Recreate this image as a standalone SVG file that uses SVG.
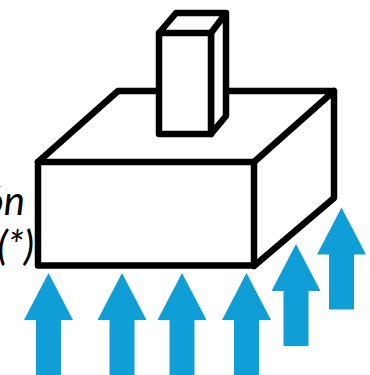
<svg xmlns="http://www.w3.org/2000/svg" width="370" height="375" viewBox="0 0 370 375">
<style>
.s{fill:#fff;stroke:#000;stroke-width:6.500;stroke-linejoin:round}
.l{fill:none;stroke:#000;stroke-width:6.500;stroke-linejoin:round;stroke-linecap:round}
.a{fill:#0f9ed5}
.t{font-family:"Lato","Open Sans","Liberation Sans",sans-serif;font-style:italic;font-size:40px;fill:#000}
</style>
<defs><path id="arrow" d="M0 0L24.500 47H12.500V102H-12.500V47H-24.500Z"/></defs>
<rect width="370" height="375" fill="#fff"/>
<g id="labels">
<text class="t" x="25" y="215" text-anchor="end">ón</text>
<text class="t" x="34" y="260" text-anchor="end">(*)</text>
</g>
<g id="base">
<path class="l" d="M38 162L118 91H334V198L254 266M254 162L334 91"/>
<rect class="s" x="38" y="162" width="216" height="103.500"/>
</g>
<g id="block">
<path class="s" d="M159 33L176 13H226V116L211 134V33L226 13"/>
<rect class="s" x="159" y="33" width="52" height="101"/>
</g>
<g id="arrows">
<use href="#arrow" class="a" x="48.500" y="273"/>
<use href="#arrow" class="a" x="122" y="273"/>
<use href="#arrow" class="a" x="182" y="273"/>
<use href="#arrow" class="a" x="246.500" y="273"/>
<use href="#arrow" class="a" x="296" y="244"/>
<use href="#arrow" class="a" x="341.500" y="207.500"/>
</g>
</svg>
